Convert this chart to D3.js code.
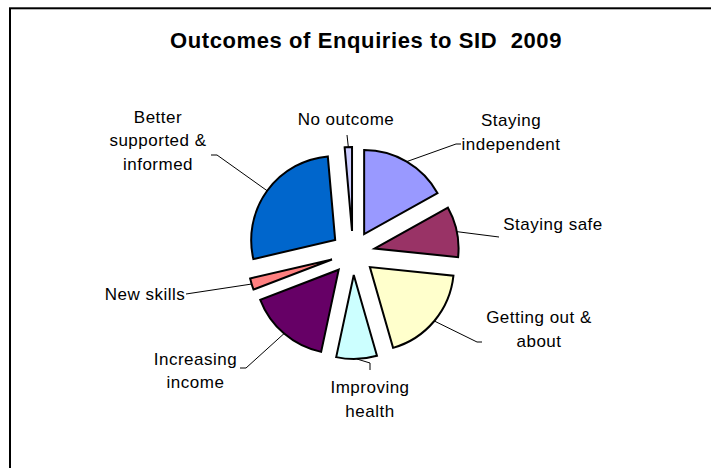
<!DOCTYPE html>
<html>
<head>
<meta charset="utf-8">
<script src="https://cdn.jsdelivr.net/npm/d3@7"></script>
<style>
  html, body { margin: 0; padding: 0; background: #fff; }
  svg { display: block; }
  text { font-family: "Liberation Sans", Arial, sans-serif; fill: #000; }
</style>
</head>
<body>
<svg id="chart" width="711" height="468"></svg>
<script>
// ---- data ----
const title = "Outcomes of Enquiries to SID  2009";
const categories = ["Staying independent", "Staying safe", "Getting out & about", "Improving health",
                    "Increasing income", "New skills", "Better supported & informed", "No outcome"];
const values = [16.9, 9.7, 18.9, 7.8, 15.8, 2.2, 27.2, 1.4];
const labelLines = [["Staying", "independent"], ["Staying safe"], ["Getting out &", "about"],
                    ["Improving", "health"], ["Increasing", "income"], ["New skills"],
                    ["Better", "supported &", "informed"], ["No outcome"]];
const colors = ["#9999FF", "#993366", "#FFFFCC", "#CCFFFF", "#660066", "#FF8080", "#0066CC", "#CCCCFF"];

// ---- layout ----
const cx = 353, cy = 253, R = 84, explode = 22;
const labelPos = [
  {x: 511, y: 126, leader: [[456, 144], [461, 144]]},
  {x: 553, y: 229.5, leader: [[499, 237]]},
  {x: 539, y: 323, leader: [[477, 342], [482, 342]]},
  {x: 370, y: 393, leader: [[370, 363], [370, 370]]},
  {x: 195.5, y: 364.5, leader: [[246, 368], [240, 368]]},
  {x: 145, y: 299.5, leader: [[186, 294]]},
  {x: 158, y: 122.5, leader: [[217, 155], [211, 155]]},
  {x: 346, y: 125, leader: [[347, 135]]}
];
const lineStep = 23.5;

const svg = d3.select("#chart");

svg.append("rect").attr("x", 10).attr("y", 8.3).attr("width", 760).attr("height", 520)
  .attr("fill", "none").attr("stroke", "#000").attr("stroke-width", 2);

svg.append("text").attr("x", 366).attr("y", 47.5).attr("text-anchor", "middle")
  .style("font-size", "22px").style("font-weight", "bold").style("letter-spacing", "0.6px")
  .style("white-space", "pre").text(title);

const pie = d3.pie().sort(null).value(d => d)(values);
const arc = d3.arc().innerRadius(0).outerRadius(R);

const g = svg.append("g");
pie.forEach((p, i) => {
  const mid = (p.startAngle + p.endAngle) / 2;
  const ox = cx + explode * Math.sin(mid), oy = cy - explode * Math.cos(mid);
  g.append("path").attr("d", arc(p)).attr("transform", `translate(${ox},${oy})`)
    .attr("fill", colors[i]).attr("stroke", "#000").attr("stroke-width", 2).attr("stroke-linejoin", "miter");
  const sx = ox + R * Math.sin(mid), sy = oy - R * Math.cos(mid);
  const pts = [[sx, sy]].concat(labelPos[i].leader);
  g.append("path").attr("d", d3.line()(pts)).attr("fill", "none").attr("stroke", "#000").attr("stroke-width", 1);
  const t = svg.append("text").attr("text-anchor", "middle")
    .style("font-size", "17px").style("letter-spacing", "0.5px");
  labelLines[i].forEach((ln, k) => {
    t.append("tspan").attr("x", labelPos[i].x).attr("y", labelPos[i].y + k * lineStep).text(ln);
  });
});
</script>
</body>
</html>
